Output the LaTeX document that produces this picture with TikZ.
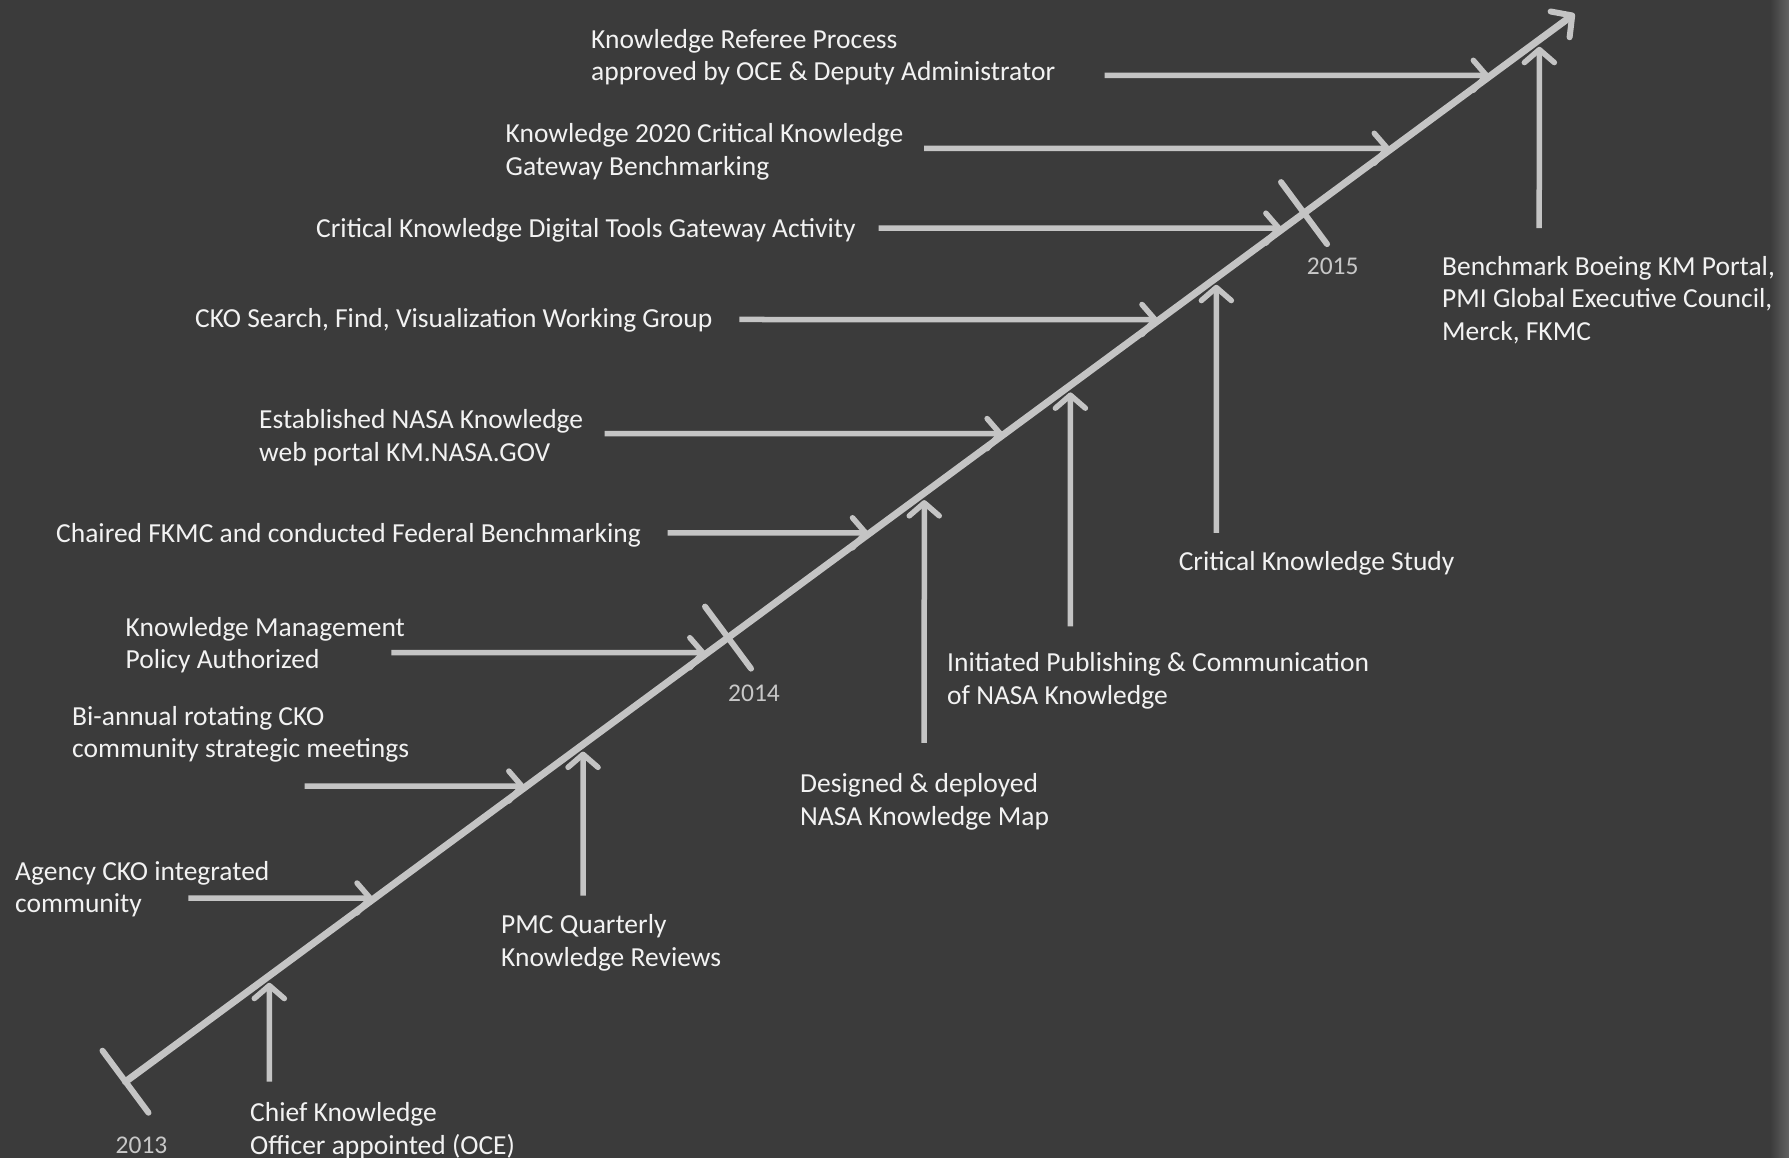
\documentclass[tikz,border=0pt]{standalone}
\usepackage{fontspec}
\setmainfont{Carlito}
\usetikzlibrary{arrows.meta,calc}
\definecolor{bg}{HTML}{3B3B3B}
\definecolor{chalk}{HTML}{C4C4C4}
\definecolor{txt}{HTML}{F2F2F2}
\definecolor{yr}{HTML}{C8C8C8}
\tikzset{
  lbl/.style={anchor=base west, inner sep=0pt, align=left, text=txt,
    font=\fontsize{27.5}{32.5}\selectfont},
  yrlbl/.style={inner sep=0pt, text=yr, font=\fontsize{25.5}{28}\selectfont},
  mainline/.style={draw=chalk, line width=7pt, line cap=round,
    -{Straight Barb[length=15pt,width=32pt,line width=6pt,round]}},
  tick/.style={draw=chalk, line width=6pt, line cap=round},
  harrow/.style={draw=chalk, line width=5.5pt,
    -{Straight Barb[length=13pt,width=30pt,line width=5.5pt,round]}, shorten >=2pt},
  varrow/.style={draw=chalk, line width=5.5pt,
    -{Straight Barb[length=13pt,width=30pt,line width=5.5pt,round]}, shorten >=7pt},
}
\begin{document}
\begin{tikzpicture}[x=1pt,y=-1pt]
\fill[bg] (0,0) rectangle (1789,1158);
\useasboundingbox (0,0) rectangle (1789,1158);
\fill[left color=bg, right color=bg!80!white] (1770,0) rectangle (1789,1158);

% main time line
\coordinate (S) at (125.5,1081.7);
\coordinate (E) at (1574.6,13.7);
\draw[mainline] (S) -- (E);
\coordinate (Y13) at (S);
\coordinate (Y14) at ($(S)!0.4158!(E)$);
\coordinate (Y15) at ($(S)!0.8133!(E)$);
\draw[tick] ($(Y13)+(-23,-31)$) -- ($(Y13)+(23,31)$);
\draw[tick] ($(Y14)+(-23,-31)$) -- ($(Y14)+(23,31)$);
\draw[tick] ($(Y15)+(-23,-31)$) -- ($(Y15)+(23,31)$);
\node[yrlbl] (y2013) at (141.5,1145) {2013};
\node[yrlbl] (y2014) at (754,693) {2014};
\node[yrlbl] (y2015) at (1332.7,266) {2015};

% labels on the left (horizontal arrows)
\node[lbl] (l1) at (591,81) {Knowledge Referee Process\\approved by OCE \& Deputy Administrator};
\node[lbl] (l2) at (505.5,175.5) {Knowledge 2020 Critical Knowledge\\Gateway Benchmarking};
\node[lbl] (l3) at (316,238) {Critical Knowledge Digital Tools Gateway Activity};
\node[lbl] (l4) at (195,328) {CKO Search, Find, Visualization Working Group};
\node[lbl] (l5) at (259,461) {Established NASA Knowledge\\web portal KM.NASA.GOV};
\node[lbl] (l6) at (56,542.5) {Chaired FKMC and conducted Federal Benchmarking};
\node[lbl] (l7) at (125.5,668.5) {Knowledge Management\\Policy Authorized};
\node[lbl] (l8) at (72,757.5) {Bi-annual rotating CKO\\community strategic meetings};
\node[lbl] (l9) at (15,912.5) {Agency CKO integrated\\community};

% labels below (vertical arrows)
\node[lbl] (va) at (250,1154) {Chief Knowledge\\Officer appointed (OCE)};
\node[lbl] (vb) at (501,966) {PMC Quarterly\\Knowledge Reviews};
\node[lbl] (vc) at (800,825) {Designed \& deployed\\NASA Knowledge Map};
\node[lbl] (vd) at (947,704) {Initiated Publishing \& Communication\\of NASA Knowledge};
\node[lbl] (ve) at (1178.6,570) {Critical Knowledge Study};
\node[lbl] (vf) at (1442,340.5) {Benchmark Boeing KM Portal,\\PMI Global Executive Council,\\Merck, FKMC};

% horizontal arrows
\foreach \n/\x/\y in {1/1104.5/75.3, 2/924/148.3, 3/878.6/228.2, 4/739.4/319.5,
  5/604.7/433.6, 6/667.5/532.8, 7/391.4/652.7, 8/304.6/786.1, 9/188.3/898}{
  \coordinate (hs\n) at (\x,\y);
  \coordinate (he\n) at (intersection of S--E and {\x,\y}--{2000,\y});
  \draw[harrow] (hs\n) -- (he\n);
}
% vertical arrows
\foreach \n/\x/\y in {a/269.3/1081.7, b/583/895.7, c/924.2/742.8, d/1070.3/626.4,
  e/1216.3/532.8, f/1539.2/228.2}{
  \coordinate (vs\n) at (\x,\y);
  \coordinate (ve\n) at (intersection of S--E and {\x,\y}--{\x,0});
  \draw[varrow] (vs\n) -- (ve\n);
}
\end{tikzpicture}
\end{document}
